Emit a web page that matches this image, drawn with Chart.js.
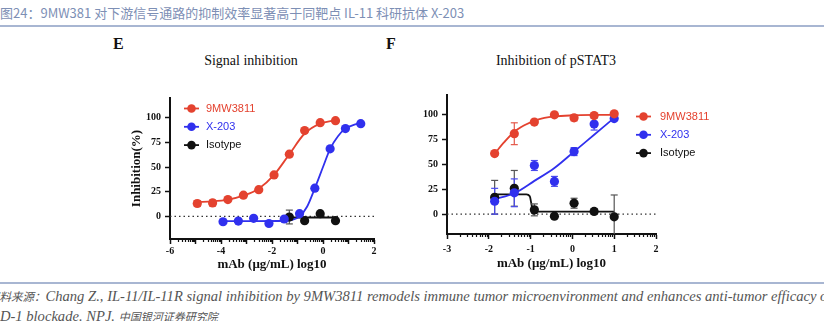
<!DOCTYPE html>
<html>
<head>
<meta charset="utf-8">
<script src="https://cdn.jsdelivr.net/npm/chart.js@4.4.1/dist/chart.umd.min.js"></script>
<style>
html,body{margin:0;padding:0;background:#fff;width:824px;height:321px;overflow:hidden}
body{position:relative}
.hdr{position:absolute;left:0;top:5px;font-family:"Noto Sans CJK SC";font-size:13px;line-height:16px;color:#7d8fb5;white-space:nowrap}
.hline{position:absolute;left:0;width:824px;height:2px;background:#a8b6d2}
.tag{position:absolute;top:35px;font-family:"Liberation Serif";font-weight:bold;font-size:16px;color:#111}
.ptitle{position:absolute;top:53px;font-family:"Liberation Serif";font-size:14px;line-height:16px;color:#111;transform:translateX(-50%);white-space:nowrap}
.src{position:absolute;font-family:"Liberation Serif","Noto Sans CJK SC";font-style:italic;font-size:14.6px;line-height:16px;color:#555;white-space:nowrap}
.src .cn{font-family:"Noto Sans CJK SC";font-size:11.5px}
.src .cn2{font-family:"Noto Sans CJK SC";font-size:11px}
canvas{position:absolute}
</style>
</head>
<body>
<div class="hdr">图24：9MW381 对下游信号通路的抑制效率显著高于同靶点 IL-11 科研抗体 X-203</div>
<div class="hline" style="top:25px"></div>
<div class="tag" style="left:113px">E</div>
<div class="tag" style="left:386px">F</div>
<div class="ptitle" style="left:251px">Signal inhibition</div>
<div class="ptitle" style="left:556px">Inhibition of pSTAT3</div>
<canvas id="chartE" width="290" height="190" style="left:100px;top:85px"></canvas>
<canvas id="chartF" width="320" height="190" style="left:400px;top:82px"></canvas>
<div class="hline" style="top:282px"></div>
<div class="src" style="left:-12px;top:288px"><span class="cn">资料来源：</span>Chang Z., IL-11/IL-11R signal inhibition by 9MW3811 remodels immune tumor microenvironment and enhances anti-tumor efficacy of</div>
<div class="src" style="left:-9px;top:308px">PD-1 blockade. NPJ. <span class="cn2">中国银河证券研究院</span></div>
<script>
const seriesNames = ['9MW3811', 'X-203', 'Isotype']
const seriesColors = ['#e4422f', '#3030ee', '#111111']
const errColors = ['#e4584a', '#4a4aee', '#555555']
const yTicks = [0, 25, 50, 75, 100]

// panel E - signal inhibition
const eDose9MW = [-4.93, -4.33, -3.73, -3.12, -2.52, -1.92, -1.32, -0.72, -0.11, 0.49]
const eVal9MW = [13, 13.6, 17, 21.4, 27, 42, 63, 87, 95, 97]
const eErr9MW = [3, 3, 0, 0, 0, 0, 0, 0, 0, 0]
const eDoseX203 = [-3.92, -3.32, -2.72, -2.12, -1.52, -0.92, -0.32, 0.28, 0.88, 1.48]
const eValX203 = [-5.5, -4.8, -2, -7.3, -2.7, 2.7, 28.5, 68.5, 89, 94]
const eErrX203 = [0, 0, 0, 0, 0, 0, 0, 0, 0, 0]
const eDoseIso = [-1.32, -0.72, -0.11, 0.49]
const eValIso = [-0.7, -4.4, 2.7, -4.4]
const eErrIso = [7, 0, 0, 0]
// fitted curves
const eFit9MWx = [-4.93, -4.33, -3.73, -3.12, -2.52, -1.92, -1.32, -0.72, -0.11, 0.49]
const eFit9MWy = [14.5, 15.2, 17, 21, 28, 42, 63, 84, 94, 97.5]
const eFitX203x = [-3.92, -2.72, -1.52, -1.2, -0.92, -0.62, -0.32, 0, 0.28, 0.58, 0.88, 1.18, 1.48]
const eFitX203y = [-4.8, -4.8, -4.5, -3.5, 0, 10, 28.5, 50, 68.5, 81, 89, 92.5, 94.5]
const eFitIsoX = [-1.32, 0.49]
const eFitIsoY = [-1.2, -1.2]
const eXMajor = [-6, -5, -4, -3, -2, -1, 0, 1, 2]
const eXLabels = [-6, -4, -2, 0, 2]

// panel F - pSTAT3
const fDose = [-1.86, -1.39, -0.91, -0.43, 0.04, 0.52, 1.0]
const fVal9MW = [61, 81, 92.7, 100, 97, 99.3, 101]
const fErr9MW = [1.5, 11, 2, 0, 3, 0, 0]
const fValX203 = [13, 21.5, 49, 33, 63, 90.7, 96.3]
const fErrX203 = [13, 14, 5, 5, 4, 6, 0]
const fValIso = [17, 26, 4.3, -2, 11, 2.7, -2.7]
const fErrIso = [17, 18, 6, 0, 5, 3, 22]
const fFit9MWx = [-1.86, -1.63, -1.39, -1.15, -0.91, -0.67, -0.43, 0.04, 0.52, 1.0]
const fFit9MWy = [61, 72.5, 83, 89.5, 94, 97, 98.5, 99.5, 100, 100]
const fFitX203x = [-1.86, -1.39, -0.91, -0.43, 0.04, 0.52, 1.0]
const fFitX203y = [15, 21, 33.5, 46.5, 63, 80, 97]
const fFitIsoX = [-1.86, -1.1, -1.02, -0.97, -0.92, 1.0]
const fFitIsoY = [20, 20, 18, 8, 2.5, 2.5]
const fXMajor = [-3, -2, -1, 0, 1, 2]
const fXLabels = [-3, -2, -1, 0, 1, 2]

const serif = 'Liberation Serif'
const ink = '#111'

function pts(xs, ys){
    return xs.map((x, i) => ({x: x, y: ys[i]}))
}

function errPts(xs, ys, es){
    const out = []
    xs.forEach((x, i) => {
        if(!es[i]) return
        out.push({x: x, y: ys[i] - es[i]}, {x: x, y: ys[i] + es[i]}, {x: x, y: null})
    })
    return out
}

function seriesSets(i, dose, vals, errs, fx, fy){
    const c = seriesColors[i]
    return [
        {data: pts(dose, vals), showLine: false, pointRadius: 4.6, pointHoverRadius: 4.6,
         pointBackgroundColor: c, pointBorderColor: c, pointBorderWidth: 0, order: 0},
        {data: errPts(dose, vals, errs), borderColor: errColors[i], borderWidth: 1.2, spanGaps: false,
         pointStyle: 'line', pointRadius: 3.5, pointBorderColor: errColors[i], pointBorderWidth: 1.2, order: 1},
        {data: pts(fx, fy), borderColor: c, borderWidth: 1.8, pointRadius: 0,
         cubicInterpolationMode: 'monotone', order: 2}
    ]
}

// GraphPad style log minor ticks on the x axis
const minorTicks = {
    id: 'minorTicks',
    afterDraw(chart){
        const s = chart.scales.x, ctx = chart.ctx
        const y0 = chart.chartArea.bottom
        ctx.save()
        ctx.strokeStyle = ink
        ctx.lineWidth = 1.2
        for(let d = Math.ceil(s.min); d < s.max; d++){
            for(let k = 2; k < 10; k++){
                const px = Math.round(s.getPixelForValue(d + Math.log10(k))) + 0.5
                ctx.beginPath()
                ctx.moveTo(px, y0)
                ctx.lineTo(px, y0 + 3)
                ctx.stroke()
            }
        }
        ctx.restore()
    }
}

const lineLegend = {
    id: 'lineLegend',
    afterDraw(chart, args, opts){
        const ctx = chart.ctx
        ctx.save()
        ctx.font = '11px "Liberation Sans"'
        ctx.textBaseline = 'middle'
        seriesNames.forEach((name, i) => {
            const y = opts.y + i * opts.gap
            ctx.strokeStyle = seriesColors[i]
            ctx.fillStyle = seriesColors[i]
            ctx.lineWidth = 1.8
            ctx.beginPath()
            ctx.moveTo(opts.x, y)
            ctx.lineTo(opts.x + 15, y)
            ctx.stroke()
            ctx.beginPath()
            ctx.arc(opts.x + 7.5, y, 4.3, 0, Math.PI * 2)
            ctx.fill()
            ctx.fillText(name, opts.x + opts.textOff, y)
        })
        ctx.restore()
    }
}

function makeChart(id, o){
    const zero = {data: [{x: o.xMin, y: 0}, {x: o.xMax, y: 0}], borderColor: '#333', borderWidth: 1.2,
                  borderDash: [1.5, 3], pointRadius: 0, order: 3}
    return new Chart(document.getElementById(id), {
        type: 'line',
        data: {datasets: [].concat(o.sets, [zero])},
        plugins: [minorTicks, lineLegend],
        options: {
            responsive: false,
            animation: false,
            layout: {padding: o.pad},
            plugins: {legend: {display: false}, tooltip: {enabled: false}, lineLegend: o.legend},
            scales: {
                x: {
                    type: 'linear', min: o.xMin, max: o.xMax,
                    afterBuildTicks: s => { s.ticks = o.xMajor.map(v => ({value: v})) },
                    afterFit: s => { s.height = o.xH },
                    ticks: {autoSkip: false, maxRotation: 0, padding: o.xPad, color: ink,
                            font: {family: serif, weight: 'bold', size: 10},
                            callback: v => o.xLabels.includes(v) ? String(v) : ''},
                    grid: {drawOnChartArea: false, tickLength: 5, tickWidth: 1.5, tickColor: ink},
                    border: {color: ink, width: 2},
                    title: {display: true, text: 'mAb (μg/mL) log10', color: ink,
                            font: {family: serif, weight: 'bold', size: 13}, padding: {top: 0, bottom: o.xtPad}}
                },
                y: {
                    min: o.yMin, max: o.yMax,
                    afterBuildTicks: s => { s.ticks = yTicks.map(v => ({value: v})) },
                    afterFit: s => { s.width = o.yW },
                    ticks: {padding: 4, color: ink, font: {family: serif, weight: 'bold', size: 10}},
                    grid: {drawOnChartArea: false, tickLength: 5, tickWidth: 1.5, tickColor: ink},
                    border: {color: ink, width: 2},
                    title: {display: o.yTitle, text: 'Inhibition(%)', color: ink,
                            font: {family: serif, weight: 'bold', size: 13}, padding: {top: 29, bottom: 0}}
                }
            }
        }
    })
}

makeChart('chartE', {
    sets: [].concat(
        seriesSets(0, eDose9MW, eVal9MW, eErr9MW, eFit9MWx, eFit9MWy),
        seriesSets(1, eDoseX203, eValX203, eErrX203, eFitX203x, eFitX203y),
        seriesSets(2, eDoseIso, eValIso, eErrIso, eFitIsoX, eFitIsoY)),
    xMin: -6, xMax: 2, yMin: -23, yMax: 120,
    xMajor: eXMajor, xLabels: eXLabels,
    pad: {left: 0, right: 16, top: 13, bottom: 0},
    xH: 36, yW: 70, xPad: 1, xtPad: 3, yTitle: true,
    legend: {x: 84, y: 23.5, gap: 18.3, textOff: 22}
})

makeChart('chartF', {
    sets: [].concat(
        seriesSets(0, fDose, fVal9MW, fErr9MW, fFit9MWx, fFit9MWy),
        seriesSets(1, fDose, fValX203, fErrX203, fFitX203x, fFitX203y),
        seriesSets(2, fDose, fValIso, fErrIso, fFitIsoX, fFitIsoY)),
    xMin: -3, xMax: 2, yMin: -20, yMax: 120,
    xMajor: fXMajor, xLabels: fXLabels,
    pad: {left: 0, right: 64, top: 13, bottom: 0},
    xH: 38, yW: 47, xPad: 4, xtPad: 1, yTitle: false,
    legend: {x: 236, y: 34.5, gap: 18.3, textOff: 24}
})
</script>
</body>
</html>
